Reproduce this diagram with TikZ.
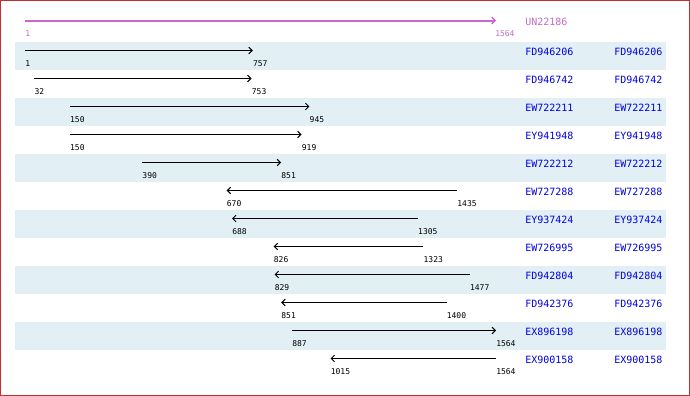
\documentclass[tikz,border=0pt]{standalone}
\usepackage{fontspec}
\newfontfamily\monofont{DejaVu Sans Mono}
\usetikzlibrary{arrows.meta}
\definecolor{rowshade}{HTML}{E2F0F5}
\definecolor{pinkline}{HTML}{CC66CC}
\definecolor{pinktext}{HTML}{C070C0}
\definecolor{idblue}{HTML}{0000E6}
\definecolor{frame}{HTML}{C03030}
\tikzset{
  idtext/.style={anchor=west, inner sep=0pt, text=idblue, font=\monofont\fontsize{7.5pt}{8pt}\selectfont},
  postext/.style={anchor=west, inner sep=0pt, text=black, font=\monofont\fontsize{6pt}{7pt}\selectfont},
  hitarrow/.style={black, line width=0.75pt, -{Straight Barb[length=2.5pt, width=5pt, line width=0.75pt]}},
  queryarrow/.style={pinkline, line width=1.5pt, -{Straight Barb[length=2.5pt, width=5pt, line width=1pt]}},
}
\begin{document}
\begin{tikzpicture}[x=0.75pt, y=-0.75pt]
\useasboundingbox (0,0) rectangle (690,396);
\fill[white] (0,0) rectangle (690,396);
% query row
\coordinate (qs) at (25,20.5);
\coordinate (qe) at (496,20.5);
\draw[queryarrow] (qs) -- (qe);
\node[postext, text=pinktext] (q1) at (25,34) {1};
\node[postext, text=pinktext] (q2) at (495,34) {1564};
\node[idtext, text=pinktext] (qid) at (525,22) {UN22186};
% hit rows
\foreach \i/\id/\s/\e in {
  1/FD946206/1/757,
  2/FD946742/32/753,
  3/EW722211/150/945,
  4/EY941948/150/919,
  5/EW722212/390/851,
  6/EW727288/1435/670,
  7/EY937424/1305/688,
  8/EW726995/1323/826,
  9/FD942804/1477/829,
  10/FD942376/1400/851,
  11/EX896198/887/1564,
  12/EX900158/1564/1015}{
  \pgfmathsetmacro{\rt}{42+(\i-1)*28}
  \ifodd\i
    \fill[rowshade] (15,\rt) rectangle (666,\rt+28);
  \fi
  \coordinate (s\i) at ({25+(\s-1)*0.30134},\rt+8.5);
  \coordinate (e\i) at ({25+(\e-1)*0.30134},\rt+8.5);
  \draw[hitarrow] (s\i) -- (e\i);
  \node[postext] (ls\i) at ({25+(\s-1)*0.30134},\rt+22) {\s};
  \node[postext] (le\i) at ({25+(\e-1)*0.30134},\rt+22) {\e};
  \node[idtext] (ida\i) at (525,\rt+10) {\id};
  \node[idtext] (idb\i) at (614,\rt+10) {\id};
}
\draw[frame, line width=0.75pt] (0.5,0.5) rectangle (689.5,395.5);
\end{tikzpicture}
\end{document}
